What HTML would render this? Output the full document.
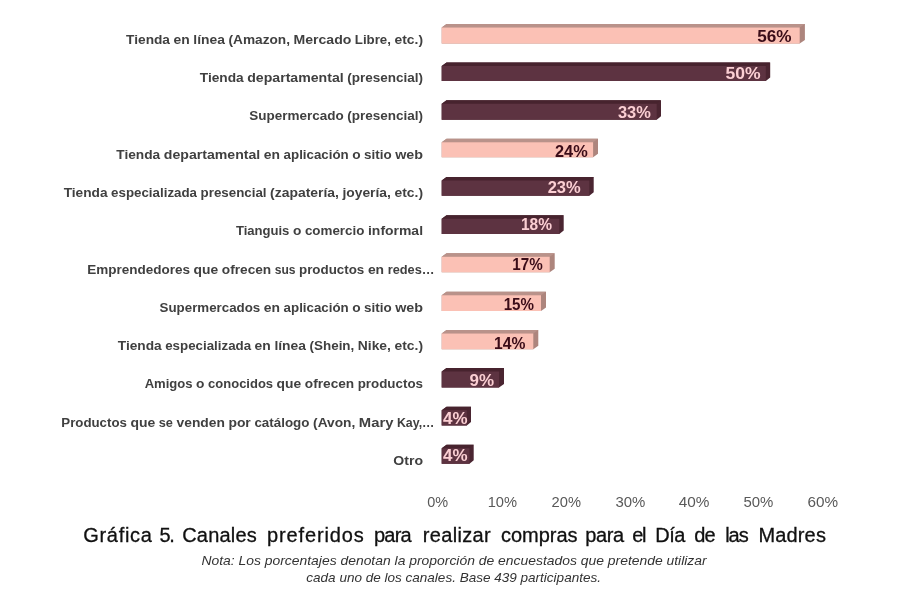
<!DOCTYPE html>
<html lang="es"><head><meta charset="utf-8"><title>Gráfica 5</title>
<style>
html,body{margin:0;padding:0;background:#fff;}
svg{display:block;}
text{font-family:"Liberation Sans",sans-serif;}
.lbl{font-weight:bold;font-size:13.6px;fill:#404040;}
.val{font-weight:bold;font-size:16px;}
.ax{font-size:15px;fill:#595959;}
.ttl{font-size:20px;fill:#111;stroke:#111;stroke-width:0.3px;}
.note{font-size:11.9px;font-style:italic;fill:#333;}
</style></head><body>
<svg width="900" height="603" viewBox="0 0 900 603">
<rect width="900" height="603" fill="#fff"/>
<polygon points="441.7,27.5 446.5,24.0 804.9,24.0 804.9,40.1 799.7,43.6 441.7,43.6" fill="#ad857d"/>
<polygon points="441.7,27.5 446.5,24.0 804.9,24.0 799.7,27.5" fill="#b9928a"/>
<polygon points="441.7,27.5 799.7,27.5 799.7,43.6 441.7,43.6" fill="#fbc1b5"/>
<polygon points="441.7,65.9 446.5,62.4 770.2,62.4 770.2,77.6 765.8,81.1 441.7,81.1" fill="#4a2531"/>
<polygon points="441.7,65.9 446.5,62.4 770.2,62.4 765.8,65.9" fill="#47232e"/>
<polygon points="441.7,65.9 765.8,65.9 765.8,81.1 441.7,81.1" fill="#5d3341"/>
<polygon points="441.7,103.8 446.5,100.3 661,100.3 661,116.2 656.7,119.7 441.7,119.7" fill="#4a2531"/>
<polygon points="441.7,103.8 446.5,100.3 661,100.3 656.7,103.8" fill="#47232e"/>
<polygon points="441.7,103.8 656.7,103.8 656.7,119.7 441.7,119.7" fill="#5d3341"/>
<polygon points="441.7,142.2 446.5,138.7 598,138.7 598,153.8 593.1,157.3 441.7,157.3" fill="#ad857d"/>
<polygon points="441.7,142.2 446.5,138.7 598,138.7 593.1,142.2" fill="#b9928a"/>
<polygon points="441.7,142.2 593.1,142.2 593.1,157.3 441.7,157.3" fill="#fbc1b5"/>
<polygon points="441.7,180.5 446.5,177 593.7,177 593.7,192.2 589.3,195.7 441.7,195.7" fill="#4a2531"/>
<polygon points="441.7,180.5 446.5,177 593.7,177 589.3,180.5" fill="#47232e"/>
<polygon points="441.7,180.5 589.3,180.5 589.3,195.7 441.7,195.7" fill="#5d3341"/>
<polygon points="441.7,218.8 446.5,215.3 563.7,215.3 563.7,230.5 559.3,234 441.7,234" fill="#4a2531"/>
<polygon points="441.7,218.8 446.5,215.3 563.7,215.3 559.3,218.8" fill="#47232e"/>
<polygon points="441.7,218.8 559.3,218.8 559.3,234 441.7,234" fill="#5d3341"/>
<polygon points="441.7,256.8 446.5,253.3 554.7,253.3 554.7,268.8 549.7,272.3 441.7,272.3" fill="#ad857d"/>
<polygon points="441.7,256.8 446.5,253.3 554.7,253.3 549.7,256.8" fill="#b9928a"/>
<polygon points="441.7,256.8 549.7,256.8 549.7,272.3 441.7,272.3" fill="#fbc1b5"/>
<polygon points="441.7,295.2 446.5,291.7 546,291.7 546,307.5 541,311 441.7,311" fill="#ad857d"/>
<polygon points="441.7,295.2 446.5,291.7 546,291.7 541,295.2" fill="#b9928a"/>
<polygon points="441.7,295.2 541,295.2 541,311 441.7,311" fill="#fbc1b5"/>
<polygon points="441.7,333.5 446.5,330 538.3,330 538.3,345.8 533.3,349.3 441.7,349.3" fill="#ad857d"/>
<polygon points="441.7,333.5 446.5,330 538.3,330 533.3,333.5" fill="#b9928a"/>
<polygon points="441.7,333.5 533.3,333.5 533.3,349.3 441.7,349.3" fill="#fbc1b5"/>
<polygon points="441.7,371.5 446.5,368 504,368 504,384.0 499,387.5 441.7,387.5" fill="#4a2531"/>
<polygon points="441.7,371.5 446.5,368 504,368 499,371.5" fill="#47232e"/>
<polygon points="441.7,371.5 499,371.5 499,387.5 441.7,387.5" fill="#5d3341"/>
<polygon points="441.7,410.2 446.5,406.7 471,406.7 471,422.0 466.8,425.5 441.7,425.5" fill="#4a2531"/>
<polygon points="441.7,410.2 446.5,406.7 471,406.7 466.8,410.2" fill="#47232e"/>
<polygon points="441.7,410.2 466.8,410.2 466.8,425.5 441.7,425.5" fill="#5d3341"/>
<polygon points="441.7,448.3 446.5,444.8 473.7,444.8 473.7,460.3 469.5,463.8 441.7,463.8" fill="#4a2531"/>
<polygon points="441.7,448.3 446.5,444.8 473.7,444.8 469.5,448.3" fill="#47232e"/>
<polygon points="441.7,448.3 469.5,448.3 469.5,463.8 441.7,463.8" fill="#5d3341"/>
<text class="lbl" y="43.9"><tspan x="126.1" textLength="43.9" lengthAdjust="spacingAndGlyphs">Tienda</tspan> <tspan x="173.6" textLength="16.2" lengthAdjust="spacingAndGlyphs">en</tspan> <tspan x="193.3" textLength="31.6" lengthAdjust="spacingAndGlyphs">línea</tspan> <tspan x="228.5" textLength="61.5" lengthAdjust="spacingAndGlyphs">(Amazon,</tspan> <tspan x="293.5" textLength="57.8" lengthAdjust="spacingAndGlyphs">Mercado</tspan> <tspan x="354.8" textLength="36.1" lengthAdjust="spacingAndGlyphs">Libre,</tspan> <tspan x="394.5" textLength="28.5" lengthAdjust="spacingAndGlyphs">etc.)</tspan></text>
<text class="lbl" y="82.2"><tspan x="199.8" textLength="43.9" lengthAdjust="spacingAndGlyphs">Tienda</tspan> <tspan x="247.2" textLength="96.5" lengthAdjust="spacingAndGlyphs">departamental</tspan> <tspan x="347.2" textLength="75.8" lengthAdjust="spacingAndGlyphs">(presencial)</tspan></text>
<text class="lbl" y="120.4"><tspan x="249.3" textLength="94.4" lengthAdjust="spacingAndGlyphs">Supermercado</tspan> <tspan x="347.2" textLength="75.8" lengthAdjust="spacingAndGlyphs">(presencial)</tspan></text>
<text class="lbl" y="158.7"><tspan x="116.3" textLength="43.9" lengthAdjust="spacingAndGlyphs">Tienda</tspan> <tspan x="163.8" textLength="96.5" lengthAdjust="spacingAndGlyphs">departamental</tspan> <tspan x="263.8" textLength="16.2" lengthAdjust="spacingAndGlyphs">en</tspan> <tspan x="283.6" textLength="65.1" lengthAdjust="spacingAndGlyphs">aplicación</tspan> <tspan x="352.2" textLength="8.4" lengthAdjust="spacingAndGlyphs">o</tspan> <tspan x="364.1" textLength="27.6" lengthAdjust="spacingAndGlyphs">sitio</tspan> <tspan x="395.2" textLength="27.8" lengthAdjust="spacingAndGlyphs">web</tspan></text>
<text class="lbl" y="197.0"><tspan x="63.7" textLength="43.9" lengthAdjust="spacingAndGlyphs">Tienda</tspan> <tspan x="111.1" textLength="85.9" lengthAdjust="spacingAndGlyphs">especializada</tspan> <tspan x="200.6" textLength="66.0" lengthAdjust="spacingAndGlyphs">presencial</tspan> <tspan x="270.1" textLength="68.8" lengthAdjust="spacingAndGlyphs">(zapatería,</tspan> <tspan x="342.4" textLength="48.5" lengthAdjust="spacingAndGlyphs">joyería,</tspan> <tspan x="394.5" textLength="28.5" lengthAdjust="spacingAndGlyphs">etc.)</tspan></text>
<text class="lbl" y="235.3"><tspan x="235.9" textLength="53.5" lengthAdjust="spacingAndGlyphs">Tianguis</tspan> <tspan x="293.0" textLength="8.4" lengthAdjust="spacingAndGlyphs">o</tspan> <tspan x="304.9" textLength="59.5" lengthAdjust="spacingAndGlyphs">comercio</tspan> <tspan x="368.0" textLength="55.0" lengthAdjust="spacingAndGlyphs">informal</tspan></text>
<text class="lbl" y="273.5"><tspan x="87.2" textLength="102.8" lengthAdjust="spacingAndGlyphs">Emprendedores</tspan> <tspan x="193.6" textLength="24.6" lengthAdjust="spacingAndGlyphs">que</tspan> <tspan x="221.8" textLength="49.4" lengthAdjust="spacingAndGlyphs">ofrecen</tspan> <tspan x="274.7" textLength="20.8" lengthAdjust="spacingAndGlyphs">sus</tspan> <tspan x="299.0" textLength="65.3" lengthAdjust="spacingAndGlyphs">productos</tspan> <tspan x="367.9" textLength="16.2" lengthAdjust="spacingAndGlyphs">en</tspan> <tspan x="387.7" textLength="46.8" lengthAdjust="spacingAndGlyphs">redes…</tspan></text>
<text class="lbl" y="311.8"><tspan x="159.6" textLength="100.6" lengthAdjust="spacingAndGlyphs">Supermercados</tspan> <tspan x="263.8" textLength="16.2" lengthAdjust="spacingAndGlyphs">en</tspan> <tspan x="283.6" textLength="65.1" lengthAdjust="spacingAndGlyphs">aplicación</tspan> <tspan x="352.2" textLength="8.4" lengthAdjust="spacingAndGlyphs">o</tspan> <tspan x="364.1" textLength="27.6" lengthAdjust="spacingAndGlyphs">sitio</tspan> <tspan x="395.2" textLength="27.8" lengthAdjust="spacingAndGlyphs">web</tspan></text>
<text class="lbl" y="350.1"><tspan x="117.8" textLength="43.9" lengthAdjust="spacingAndGlyphs">Tienda</tspan> <tspan x="165.2" textLength="85.9" lengthAdjust="spacingAndGlyphs">especializada</tspan> <tspan x="254.6" textLength="16.2" lengthAdjust="spacingAndGlyphs">en</tspan> <tspan x="274.4" textLength="31.6" lengthAdjust="spacingAndGlyphs">línea</tspan> <tspan x="309.6" textLength="44.7" lengthAdjust="spacingAndGlyphs">(Shein,</tspan> <tspan x="357.8" textLength="33.1" lengthAdjust="spacingAndGlyphs">Nike,</tspan> <tspan x="394.5" textLength="28.5" lengthAdjust="spacingAndGlyphs">etc.)</tspan></text>
<text class="lbl" y="388.3"><tspan x="144.7" textLength="47.9" lengthAdjust="spacingAndGlyphs">Amigos</tspan> <tspan x="196.1" textLength="8.4" lengthAdjust="spacingAndGlyphs">o</tspan> <tspan x="208.1" textLength="65.0" lengthAdjust="spacingAndGlyphs">conocidos</tspan> <tspan x="276.6" textLength="24.6" lengthAdjust="spacingAndGlyphs">que</tspan> <tspan x="304.8" textLength="49.4" lengthAdjust="spacingAndGlyphs">ofrecen</tspan> <tspan x="357.7" textLength="65.3" lengthAdjust="spacingAndGlyphs">productos</tspan></text>
<text class="lbl" y="426.6"><tspan x="61.3" textLength="65.6" lengthAdjust="spacingAndGlyphs">Productos</tspan> <tspan x="130.4" textLength="24.8" lengthAdjust="spacingAndGlyphs">que</tspan> <tspan x="158.7" textLength="14.2" lengthAdjust="spacingAndGlyphs">se</tspan> <tspan x="176.5" textLength="48.4" lengthAdjust="spacingAndGlyphs">venden</tspan> <tspan x="228.4" textLength="22.4" lengthAdjust="spacingAndGlyphs">por</tspan> <tspan x="254.4" textLength="55.1" lengthAdjust="spacingAndGlyphs">catálogo</tspan> <tspan x="313.1" textLength="42.2" lengthAdjust="spacingAndGlyphs">(Avon,</tspan> <tspan x="358.8" textLength="34.6" lengthAdjust="spacingAndGlyphs">Mary</tspan> <tspan x="396.9" textLength="37.6" lengthAdjust="spacingAndGlyphs">Kay,…</tspan></text>
<text class="lbl" y="464.9"><tspan x="393.3" textLength="29.7" lengthAdjust="spacingAndGlyphs">Otro</tspan></text>
<text class="val" x="757.3" y="41.5" fill="#3a0c18" textLength="34.3" lengthAdjust="spacingAndGlyphs">56%</text>
<text class="val" x="725.5" y="78.8" fill="#fbcfd3" textLength="35.1" lengthAdjust="spacingAndGlyphs">50%</text>
<text class="val" x="618.0" y="118.0" fill="#fbcfd3" textLength="32.8" lengthAdjust="spacingAndGlyphs">33%</text>
<text class="val" x="555.0" y="157.0" fill="#3a0c18" textLength="32.7" lengthAdjust="spacingAndGlyphs">24%</text>
<text class="val" x="547.7" y="192.7" fill="#fbcfd3" textLength="33.0" lengthAdjust="spacingAndGlyphs">23%</text>
<text class="val" x="521.0" y="230.3" fill="#fbcfd3" textLength="31.0" lengthAdjust="spacingAndGlyphs">18%</text>
<text class="val" x="512.3" y="270.0" fill="#3a0c18" textLength="30.4" lengthAdjust="spacingAndGlyphs">17%</text>
<text class="val" x="503.7" y="310.0" fill="#3a0c18" textLength="30.3" lengthAdjust="spacingAndGlyphs">15%</text>
<text class="val" x="494.0" y="348.7" fill="#3a0c18" textLength="31.3" lengthAdjust="spacingAndGlyphs">14%</text>
<text class="val" x="469.5" y="386.0" fill="#fbcfd3" textLength="24.5" lengthAdjust="spacingAndGlyphs">9%</text>
<text class="val" x="443.0" y="423.5" fill="#fbcfd3" textLength="24.5" lengthAdjust="spacingAndGlyphs">4%</text>
<text class="val" x="443.0" y="461.4" fill="#fbcfd3" textLength="24.5" lengthAdjust="spacingAndGlyphs">4%</text>
<text class="ax" x="427.2" y="506.8" textLength="20.9" lengthAdjust="spacingAndGlyphs">0%</text>
<text class="ax" x="487.7" y="506.8" textLength="29.4" lengthAdjust="spacingAndGlyphs">10%</text>
<text class="ax" x="551.6" y="506.8" textLength="29.4" lengthAdjust="spacingAndGlyphs">20%</text>
<text class="ax" x="615.5" y="506.8" textLength="29.9" lengthAdjust="spacingAndGlyphs">30%</text>
<text class="ax" x="678.8" y="506.8" textLength="30.7" lengthAdjust="spacingAndGlyphs">40%</text>
<text class="ax" x="743.5" y="506.8" textLength="29.9" lengthAdjust="spacingAndGlyphs">50%</text>
<text class="ax" x="807.4" y="506.8" textLength="30.6" lengthAdjust="spacingAndGlyphs">60%</text>
<text class="ttl" y="542.1"><tspan x="83.3" textLength="68.5" lengthAdjust="spacing">Gráfica</tspan> <tspan x="159.5" textLength="15.3" lengthAdjust="spacing">5.</tspan> <tspan x="182.2" textLength="74.5" lengthAdjust="spacing">Canales</tspan> <tspan x="266.9" textLength="96.9" lengthAdjust="spacing">preferidos</tspan> <tspan x="374.0" textLength="37.7" lengthAdjust="spacing">para</tspan> <tspan x="422.7" textLength="68.0" lengthAdjust="spacing">realizar</tspan> <tspan x="500.9" textLength="76.6" lengthAdjust="spacing">compras</tspan> <tspan x="585.3" textLength="38.9" lengthAdjust="spacing">para</tspan> <tspan x="632.2" textLength="14.3" lengthAdjust="spacing">el</tspan> <tspan x="655.3" textLength="30.0" lengthAdjust="spacing">Día</tspan> <tspan x="694.2" textLength="21.4" lengthAdjust="spacing">de</tspan> <tspan x="725.2" textLength="23.5" lengthAdjust="spacing">las</tspan> <tspan x="758.4" textLength="67.5" lengthAdjust="spacing">Madres</tspan></text>
<text class="note" x="201.4" y="565.1" textLength="505.3" lengthAdjust="spacingAndGlyphs">Nota: Los porcentajes denotan la proporción de encuestados que pretende utilizar</text>
<text class="note" x="306.3" y="582.3" textLength="294.7" lengthAdjust="spacingAndGlyphs">cada uno de los canales. Base 439 participantes.</text>
</svg></body></html>
